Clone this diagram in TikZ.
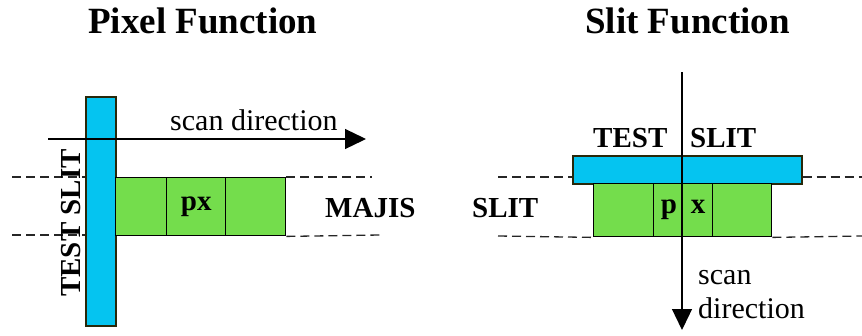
\documentclass[tikz,border=0pt]{standalone}
\usepackage{fontspec}
\setmainfont{Liberation Serif}
\usetikzlibrary{arrows.meta}
\definecolor{slitblue}{RGB}{5,196,240}
\definecolor{slitedge}{RGB}{40,40,10}
\definecolor{pixgreen}{RGB}{116,221,76}
\tikzset{
  slitbar/.style={draw=slitedge, line width=1.5pt, fill=slitblue, inner sep=0pt, anchor=north west},
  pixcell/.style={draw=black, line width=1.4pt, fill=pixgreen, inner sep=0pt, anchor=north west,
                  font=\fontsize{29}{34}\selectfont\bfseries},
  guide/.style={draw=black!85, line width=1.3pt, dash pattern=on 9pt off 5pt},
  scanarrow/.style={draw=black, line width=1.3pt, -{Triangle[length=21pt,width=20pt]}},
  title/.style={font=\fontsize{37}{42}\selectfont\bfseries, anchor=base west, inner sep=0pt},
  boldlabel/.style={font=\fontsize{29}{34}\selectfont\bfseries, anchor=base west, inner sep=0pt},
  plainlabel/.style={font=\fontsize{30}{34}\selectfont, anchor=base west, inner sep=0pt},
}
\begin{document}
\begin{tikzpicture}[x=1pt, y=-1pt]
\useasboundingbox (0,0) rectangle (862,335);

% ---------- Pixel function ----------
\node[title] (ltitle) at (88,33) {Pixel Function};

\node[slitbar, minimum width=30pt, minimum height=229pt] (lbar) at (85,96) {};
\node[pixcell, minimum width=51pt, minimum height=58pt] (lc1) at (115,177) {};
\node[pixcell, minimum width=59pt, minimum height=58pt] (lc2) at (166,177) {px};
\node[pixcell, minimum width=60pt, minimum height=58pt] (lc3) at (225,177) {};

\coordinate (ldtl) at (12,177);
\coordinate (ldbl) at (12,235);
\coordinate (ldtr) at (372,177);
\coordinate (ldbr) at (380,235);
\draw[guide] (ldtl) -- (lbar.west |- ldtl);
\draw[guide] (ldbl) -- (lbar.west |- ldbl);
\draw[guide] (lc3.north east) -- (ldtr);
\draw[guide] (lc3.south east) -- (ldbr);

\coordinate (lscanstart) at (48,139);
\coordinate (lscanend) at (366,139);
\draw[scanarrow] (lscanstart) -- (lscanend);
\node[plainlabel] (lscan) at (170,130) {scan direction};
\node[boldlabel] (majis) at (325,217) {MAJIS};
\node[boldlabel, rotate=90] (testslitv) at (80,297) {TEST SLIT};

% ---------- Slit function ----------
\node[title] (rtitle) at (585,33) {Slit Function};

\node[slitbar, minimum width=229pt, minimum height=28pt] (rbar) at (572,155) {};
\node[pixcell, minimum width=60pt, minimum height=53pt] (rc1) at (593,183) {};
\node[pixcell, minimum width=59pt, minimum height=53pt] (rc2) at (653,183) {p\hspace{14pt}x};
\node[pixcell, minimum width=59pt, minimum height=53pt] (rc3) at (712,183) {};

\coordinate (rdtl) at (498,177);
\coordinate (rdbl) at (498,236);
\coordinate (rdtr) at (862,177);
\coordinate (rdbr) at (862,236);
\draw[guide] (rdtl) -- (rbar.west |- rdtl);
\draw[guide] (rdbl) -- (rc1.south west);
\draw[guide] (rbar.east |- rdtr) -- (rdtr);
\draw[guide] (rc3.south east) -- (rdbr);

\coordinate (rscanstart) at (682,72);
\coordinate (rscanend) at (682,330);
\draw[scanarrow] (rscanstart) -- (rscanend);
\node[boldlabel] (rtest) at (593,147) {TEST};
\node[boldlabel] (rslit) at (690,147) {SLIT};
\node[boldlabel] (lslit) at (472,217) {SLIT};
% two-line label: the base anchor sits on the last line's baseline
\node[plainlabel, align=left] (rscan) at (698,318) {scan\\direction};
\end{tikzpicture}
\end{document}
